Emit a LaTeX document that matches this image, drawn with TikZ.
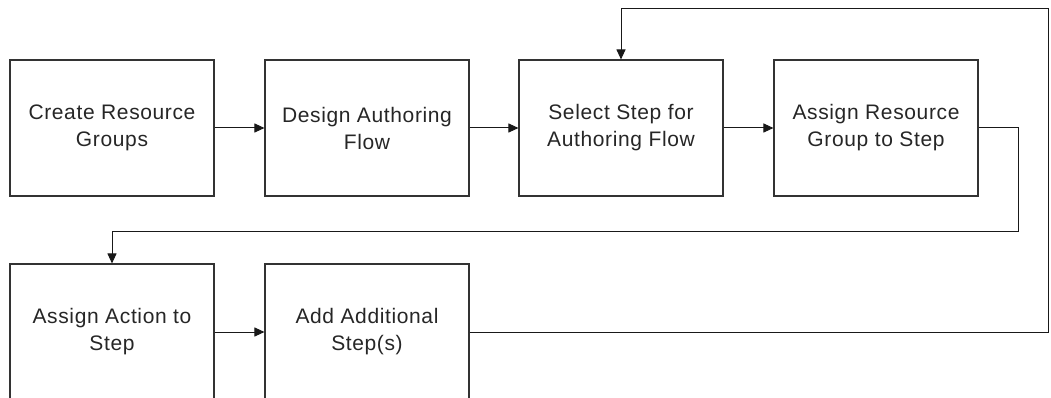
\documentclass[tikz,border=0pt]{standalone}
\usepackage{fontspec}
\setmainfont{Liberation Sans}[LetterSpace=3]
\usepackage{tikz}
\usetikzlibrary{arrows.meta}
\tikzset{every picture/.style={line width=1pt}}
\tikzset{
  stepbox/.style={draw=black!80, line width=1.1pt, minimum width=204pt, minimum height=136pt,
    inner sep=0pt, align=center, text=black!85, font=\fontsize{21}{27}\selectfont},
  flow/.style={draw=black!90, line width=1pt, -{Triangle[length=10pt,width=9pt]}}
}

\begin{document}
\begin{tikzpicture}[x=1pt,y=1pt,yscale=-1]
		\useasboundingbox (0,0) rectangle (1051,398);
		\clip (0,0) rectangle (1051,398);
		
		%Shape: Rectangle [id:b1] 
		\node[stepbox] (b1) at (112,128) {Create Resource\\Groups};
		%Shape: Rectangle [id:b2] 
		\node[stepbox] (b2) at (367,128) {Design Authoring\\Flow};
		%Shape: Rectangle [id:b3] 
		\node[stepbox] (b3) at (621,128) {Select Step for\\Authoring Flow};
		%Shape: Rectangle [id:b4] 
		\node[stepbox] (b4) at (876,128) {Assign Resource\\Group to Step};
		%Shape: Rectangle [id:b5] 
		\node[stepbox] (b5) at (112,332) {Assign Action to\\Step};
		%Shape: Rectangle [id:b6] 
		\node[stepbox] (b6) at (367,332) {Add Additional\\Step(s)};
		
		%Straight Lines [id:turns] 
		\coordinate (turnA) at (1018,231);
		\coordinate (turnB) at (1048,9);
		
		%Straight Lines [id:b1b2] 
		\draw[flow] (b1.east) -- (b2.west);
		%Straight Lines [id:b2b3] 
		\draw[flow] (b2.east) -- (b3.west);
		%Straight Lines [id:b3b4] 
		\draw[flow] (b3.east) -- (b4.west);
		%Straight Lines [id:b4b5] 
		\draw[flow] (b4.east) -| (turnA) -| (b5.north);
		%Straight Lines [id:b5b6] 
		\draw[flow] (b5.east) -- (b6.west);
		%Straight Lines [id:b6b3] 
		\draw[flow] (b6.east) -| (turnB) -| (b3.north);
		
\end{tikzpicture}
\end{document}
